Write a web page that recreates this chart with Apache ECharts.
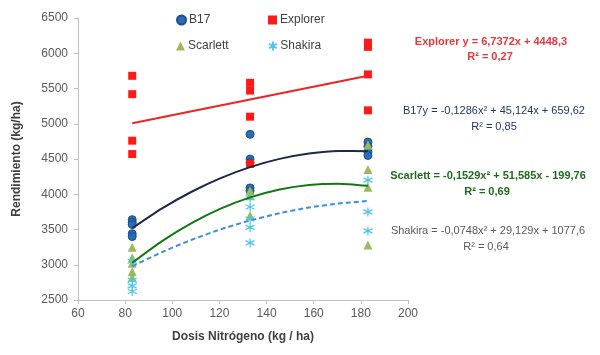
<!DOCTYPE html>
<html>
<head>
<meta charset="utf-8">
<script src="https://cdn.jsdelivr.net/npm/echarts@6/dist/echarts.min.js"></script>
<style>html,body{margin:0;padding:0;background:#fff}#c{width:600px;height:355px}</style>
</head>
<body>
<div id="c"></div>
<script>
// Nitrogen doses (kg/ha)
const doses = [83, 133, 183];
// Yield observations per dose (kg/ha)
const b17 = [[3640, 3600, 3570, 3440, 3400], [4850, 4500, 4450, 4090, 4050], [4740, 4680, 4600, 4550]];
const explorer = [[5680, 5420, 4760, 4570], [5580, 5470, 5100, 4430], [6150, 6090, 5700, 5190]];
const scarlett = [[3250, 3100, 3020, 2900, 2820], [4050, 3980, 3700], [4700, 4350, 4100, 3280]];
const shakira = [[3050, 2780, 2700, 2620], [3950, 3820, 3650, 3530, 3310], [4200, 3750, 3480]];
// Trend lines read along the dose axis
const trendX = [83, 95.5, 108, 120.5, 133, 145.5, 158, 170.5, 183];
const trendB17 = [3518, 3796, 4032, 4229, 4385, 4502, 4578, 4614, 4610];
const trendScarlett = [3028, 3332, 3587, 3795, 3955, 4068, 4132, 4150, 4119];
const trendShakira = [2980, 3177, 3351, 3502, 3628, 3731, 3811, 3869, 3904];
const trendExplorerX = [83, 183];
const trendExplorer = [5008, 5681];
// Labels
const seriesNames = ['B17', 'Explorer', 'Scarlett', 'Shakira'];
const yTicks = {min: 2500, max: 6500, step: 500};
const xTicks = {min: 60, max: 200, step: 20};
const equations = [
  ['Explorer y = 6,7372x + 4448,3', 'R² = 0,27'],
  ['B17y = -0,1286x² + 45,124x + 659,62', 'R² = 0,85'],
  ['Scarlett = -0,1529x² + 51,585x - 199,76', 'R² = 0,69'],
  ['Shakira = -0,0748x² + 29,129x + 1077,6', 'R² = 0,64']
];

function pts(groups) {
  const out = [];
  groups.forEach((g, i) => g.forEach(v => out.push([doses[i], v])));
  return out;
}
function line(xs, ys) { return xs.map((x, i) => [x, ys[i]]); }

const FONT = 'Liberation Sans';
const asterisk = 'path://M5,0L5,10M0.7,2.5L9.3,7.5M0.7,7.5L9.3,2.5';

const chart = echarts.init(document.getElementById('c'), null, {renderer: 'canvas'});
const legendBase = {orient: 'horizontal', itemWidth: 9, itemHeight: 9, itemGap: 4,
  textStyle: {fontFamily: FONT, fontSize: 12, color: '#404040', padding: [0, 0, 0, -2]}};
chart.setOption({
  animation: false,
  grid: {left: 78, right: 192, top: 18, bottom: 55},
  legend: [
    Object.assign({}, legendBase, {data: [seriesNames[0]], left: 171, top: 9}),
    Object.assign({}, legendBase, {data: [seriesNames[1]], left: 263, top: 9}),
    Object.assign({}, legendBase, {data: [seriesNames[2]], left: 171, top: 35}),
    Object.assign({}, legendBase, {data: [seriesNames[3]], left: 263, top: 35})
  ],
  xAxis: {
    type: 'value', min: xTicks.min, max: xTicks.max, interval: xTicks.step,
    axisLine: {onZero: false, lineStyle: {color: '#bfbfbf'}},
    axisTick: {show: true, length: 4, lineStyle: {color: '#bfbfbf'}},
    splitLine: {show: false},
    axisLabel: {fontFamily: FONT, fontSize: 12, color: '#595959', margin: 8, formatter: v => String(v)}
  },
  yAxis: {
    type: 'value', min: yTicks.min, max: yTicks.max, interval: yTicks.step,
    axisLine: {show: true, lineStyle: {color: '#bfbfbf'}},
    axisTick: {show: true, length: 4, lineStyle: {color: '#bfbfbf'}},
    splitLine: {show: false},
    axisLabel: {fontFamily: FONT, fontSize: 12, color: '#595959', margin: 10, formatter: v => String(v)}
  },
  graphic: [
    {type: 'text', x: 17, y: 159, rotation: Math.PI / 2,
      style: {text: 'Rendimiento (kg/ha)', font: 'bold 12px ' + FONT, fill: '#404040', align: 'center', verticalAlign: 'middle'}},
    {type: 'text', x: 243, y: 337,
      style: {text: 'Dosis Nitrógeno (kg / ha)', font: 'bold 12px ' + FONT, fill: '#404040', align: 'center', verticalAlign: 'middle'}},
    {type: 'text', x: 491, y: 42, style: {text: equations[0][0], font: 'bold 11px ' + FONT, fill: '#e8383b', align: 'center', verticalAlign: 'middle'}},
    {type: 'text', x: 490, y: 57, style: {text: equations[0][1], font: 'bold 11px ' + FONT, fill: '#e8383b', align: 'center', verticalAlign: 'middle'}},
    {type: 'text', x: 494, y: 111, style: {text: equations[1][0], font: '11px ' + FONT, fill: '#1f3864', align: 'center', verticalAlign: 'middle'}},
    {type: 'text', x: 494, y: 127, style: {text: equations[1][1], font: '11px ' + FONT, fill: '#1f3864', align: 'center', verticalAlign: 'middle'}},
    {type: 'text', x: 488, y: 176, style: {text: equations[2][0], font: 'bold 11px ' + FONT, fill: '#1e6b1e', align: 'center', verticalAlign: 'middle'}},
    {type: 'text', x: 487, y: 192, style: {text: equations[2][1], font: 'bold 11px ' + FONT, fill: '#1e6b1e', align: 'center', verticalAlign: 'middle'}},
    {type: 'text', x: 488, y: 231, style: {text: equations[3][0], font: '11px ' + FONT, fill: '#595959', align: 'center', verticalAlign: 'middle'}},
    {type: 'text', x: 486, y: 247, style: {text: equations[3][1], font: '11px ' + FONT, fill: '#595959', align: 'center', verticalAlign: 'middle'}}
  ],
  series: [
    {name: seriesNames[0], type: 'scatter', symbol: 'circle', symbolSize: 8, data: pts(b17),
      itemStyle: {color: '#2a6cb5', borderColor: '#1b4f8a', borderWidth: 1, opacity: 1}},
    {name: seriesNames[1], type: 'scatter', symbol: 'rect', symbolSize: 8, data: pts(explorer),
      itemStyle: {color: '#ff1a1a', opacity: 1}},
    {name: seriesNames[2], type: 'scatter', symbol: 'triangle', symbolSize: 9, data: pts(scarlett),
      itemStyle: {color: '#9bbb59', opacity: 1}},
    {name: seriesNames[3], type: 'scatter', symbol: asterisk, symbolSize: 9, data: pts(shakira),
      itemStyle: {color: '#4bc6e6', borderColor: '#4bc6e6', borderWidth: 1.2, opacity: 1}},
    {type: 'line', data: line(trendExplorerX, trendExplorer), showSymbol: false, silent: true,
      lineStyle: {color: '#f02424', width: 2}},
    {type: 'line', data: line(trendX, trendB17), smooth: 0.2, showSymbol: false, silent: true,
      lineStyle: {color: '#1c2a4a', width: 2}},
    {type: 'line', data: line(trendX, trendScarlett), smooth: 0.2, showSymbol: false, silent: true,
      lineStyle: {color: '#137813', width: 2}},
    {type: 'line', data: line(trendX, trendShakira), smooth: 0.2, showSymbol: false, silent: true,
      lineStyle: {color: '#3f8fdc', width: 2, type: [5, 3]}}
  ]
});
</script>
</body>
</html>
